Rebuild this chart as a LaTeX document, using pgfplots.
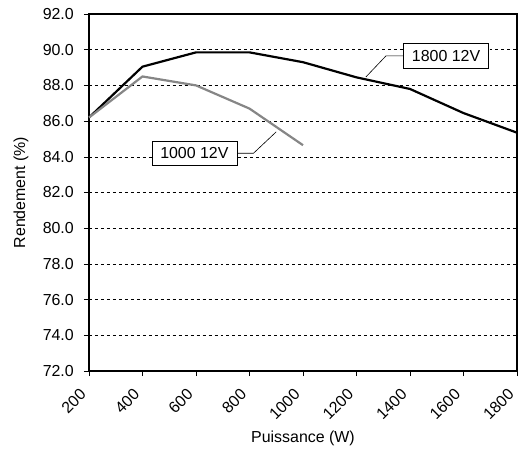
\documentclass[border=0pt]{standalone}
\usepackage{fontspec}
\setmainfont{Liberation Sans}
\usepackage{pgfplots}
\pgfplotsset{compat=1.18}
\begin{document}
\begin{tikzpicture}[x=1bp,y=1bp]
\path[use as bounding box] (-89bp,-82bp) rectangle (429bp,371bp);
\begin{axis}[
  at={(0,0)}, anchor=south west,
  scale only axis, width=428bp, height=357bp,
  xmin=200, xmax=1800, ymin=72, ymax=92,
  xtick={200,400,...,1800},
  ytick={72,74,...,92},
  axis line style={line width=2pt},
  tick style={black, line width=0.6pt},
  tick align=outside, major tick length=5bp,
  xtick pos=bottom, ytick pos=left,
  ymajorgrids, grid style={dashed, black, line width=0.5pt},
  font=\fontsize{16}{18}\selectfont,
  /pgf/number format/assume math mode=true,
  yticklabel style={/pgf/number format/fixed, /pgf/number format/precision=1, /pgf/number format/fixed zerofill, inner sep=2bp, xshift=-8bp},
  xticklabel style={rotate=45, anchor=north east, inner sep=1bp, xshift=-14bp, /pgf/number format/1000 sep={}},
  ylabel={Rendement (\%)},
  xlabel={Puissance (W)},
  ylabel style={at={(axis description cs:0,0.5)}, anchor=south, yshift=57bp},
  xlabel style={at={(axis description cs:0.5,0)}, anchor=north, yshift=-56bp},
  clip=false,
]
\addplot[black, line width=2.2pt] coordinates {
(200,86.2) (400,89.05) (600,89.85) (800,89.85) (1000,89.3) (1200,88.45) (1400,87.8) (1600,86.45) (1800,85.35)};
\addplot[gray!95, line width=2.2pt] coordinates {
(200,86.2) (400,88.5) (600,88.0) (800,86.7) (1000,84.65)};
\draw[black, line width=0.6pt] (axis cs:1235,88.47) -- (axis cs:1310,89.65) -- (axis cs:1375,89.65);
\node[draw=black, fill=white, line width=0.6pt, minimum width=85bp, minimum height=25bp, inner sep=0pt] at (axis cs:1535,89.65) {1800 12V};
\draw[black, line width=0.6pt] (axis cs:900,85.4) -- (axis cs:815,84.2) -- (axis cs:750,84.2);
\node[draw=black, fill=white, line width=0.6pt, minimum width=85bp, minimum height=24bp, inner sep=0pt] at (axis cs:594,84.2) {1000 12V};
\end{axis}
\end{tikzpicture}
\end{document}
